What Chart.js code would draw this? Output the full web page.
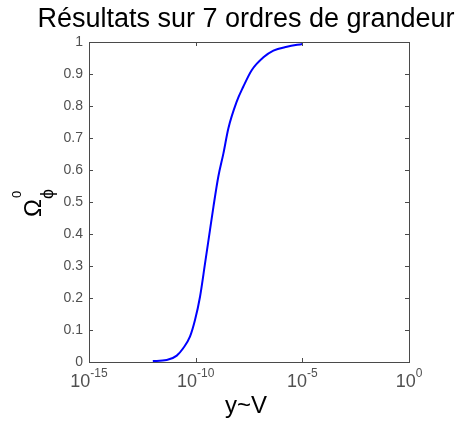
<!DOCTYPE html>
<html>
<head>
<meta charset="utf-8">
<script src="https://cdn.jsdelivr.net/npm/chart.js@4/dist/chart.umd.min.js"></script>
<style>
    body { margin: 0; background: #fff; }
    #wrap { width: 461px; height: 424px; position: relative; }
</style>
</head>
<body>
<div id="wrap"><canvas id="chart"></canvas></div>
<script>
// values
const xValues = [9.8e-13, 4.4e-12, 1.3e-11, 2.6e-11, 5.4e-11, 9.3e-11, 1.6e-10, 2.75e-10,
    4.7e-10, 6.8e-10, 1.15e-9, 2.0e-9, 3.4e-9, 8.3e-9, 1.7e-8, 4.3e-8, 1.5e-7, 4.4e-7, 1.9e-6, 1.0e-5];
const yValues = [0.003, 0.006, 0.02, 0.043, 0.079, 0.131, 0.204, 0.308,
    0.413, 0.485, 0.579, 0.652, 0.730, 0.813, 0.860, 0.9125, 0.952, 0.973, 0.985, 0.994];

const xTickExponents = [-15, -10, -5, 0];
const yTicks = [0, 0.1, 0.2, 0.3, 0.4, 0.5, 0.6, 0.7, 0.8, 0.9, 1];

const titleText = "Résultats sur 7 ordres de grandeur";
const xTitle = "y~V";

const FONT = "'Liberation Sans', Arial, sans-serif";
const AXIS_COLOR = "#4a4a4a";
const LABEL_COLOR = "#505050";

// matlab-like box, inward ticks, labels and titles
const matlabAxes = {
    id: "matlabAxes",
    afterDraw(chart) {
        const ctx = chart.ctx;
        const area = chart.chartArea;
        const xs = chart.scales.x;
        const ys = chart.scales.y;
        const tick = 4;

        ctx.save();
        ctx.strokeStyle = AXIS_COLOR;
        ctx.lineWidth = 1;
        ctx.strokeRect(area.left + 0.5, area.top + 0.5, area.right - area.left, area.bottom - area.top);

        ctx.beginPath();
        for (const e of xTickExponents) {
            const px = Math.round(xs.getPixelForValue(Math.pow(10, e))) + 0.5;
            ctx.moveTo(px, area.bottom);
            ctx.lineTo(px, area.bottom - tick);
            ctx.moveTo(px, area.top);
            ctx.lineTo(px, area.top + tick);
        }
        for (const v of yTicks) {
            const py = Math.round(ys.getPixelForValue(v)) + 0.5;
            ctx.moveTo(area.left, py);
            ctx.lineTo(area.left + tick, py);
            ctx.moveTo(area.right, py);
            ctx.lineTo(area.right - tick, py);
        }
        ctx.stroke();

        // y tick labels
        ctx.fillStyle = LABEL_COLOR;
        ctx.font = "14px " + FONT;
        ctx.textAlign = "right";
        ctx.textBaseline = "middle";
        for (const v of yTicks) {
            ctx.fillText(String(v), area.left - 6, ys.getPixelForValue(v));
        }

        // x tick labels: 10 with superscript exponent
        ctx.textAlign = "left";
        ctx.textBaseline = "alphabetic";
        for (const e of xTickExponents) {
            const px = xs.getPixelForValue(Math.pow(10, e));
            const exp = e === 0 ? "0" : String(e);
            ctx.font = "18px " + FONT;
            const wBase = ctx.measureText("10").width;
            ctx.font = "12px " + FONT;
            const wExp = ctx.measureText(exp).width;
            const x0 = px - (wBase + wExp) / 2;
            ctx.font = "18px " + FONT;
            ctx.fillText("10", x0, 387);
            ctx.font = "12px " + FONT;
            ctx.fillText(exp, x0 + wBase, 377);
        }

        // title and x title
        ctx.fillStyle = "#000";
        ctx.textAlign = "center";
        ctx.font = "27px " + FONT;
        ctx.fillText(titleText, 246, 27);
        ctx.font = "24px " + FONT;
        ctx.fillText(xTitle, 246, 413);

        // y title: Omega with superscript 0 and subscript phi, rotated
        ctx.translate(41, (area.top + area.bottom) / 2);
        ctx.rotate(-Math.PI / 2);
        ctx.textAlign = "left";
        ctx.font = "24px " + FONT;
        ctx.fillText("Ω", -15, 0);
        const wO = ctx.measureText("Ω").width;
        ctx.font = "13px " + FONT;
        ctx.fillText("0", -15 + wO + 1, -20);
        ctx.font = "18px " + FONT;
        ctx.fillText("ϕ", -15 + wO, 12);
        ctx.restore();
    }
};

new Chart(document.getElementById("chart"), {
    type: "line",
    data: {
        datasets: [{
            data: xValues.map((x, i) => ({ x: x, y: yValues[i] })),
            borderColor: "#0000ff",
            borderWidth: 2,
            pointRadius: 0,
            fill: false,
            cubicInterpolationMode: "monotone"
        }]
    },
    options: {
        responsive: true,
        maintainAspectRatio: false,
        animation: false,
        layout: {
            padding: { left: 89, right: 52, top: 42, bottom: 62 }
        },
        plugins: {
            legend: { display: false },
            tooltip: { enabled: false }
        },
        scales: {
            x: {
                type: "logarithmic",
                min: 1e-15,
                max: 1,
                display: false
            },
            y: {
                type: "linear",
                min: 0,
                max: 1,
                display: false
            }
        }
    },
    plugins: [matlabAxes]
});
</script>
</body>
</html>
